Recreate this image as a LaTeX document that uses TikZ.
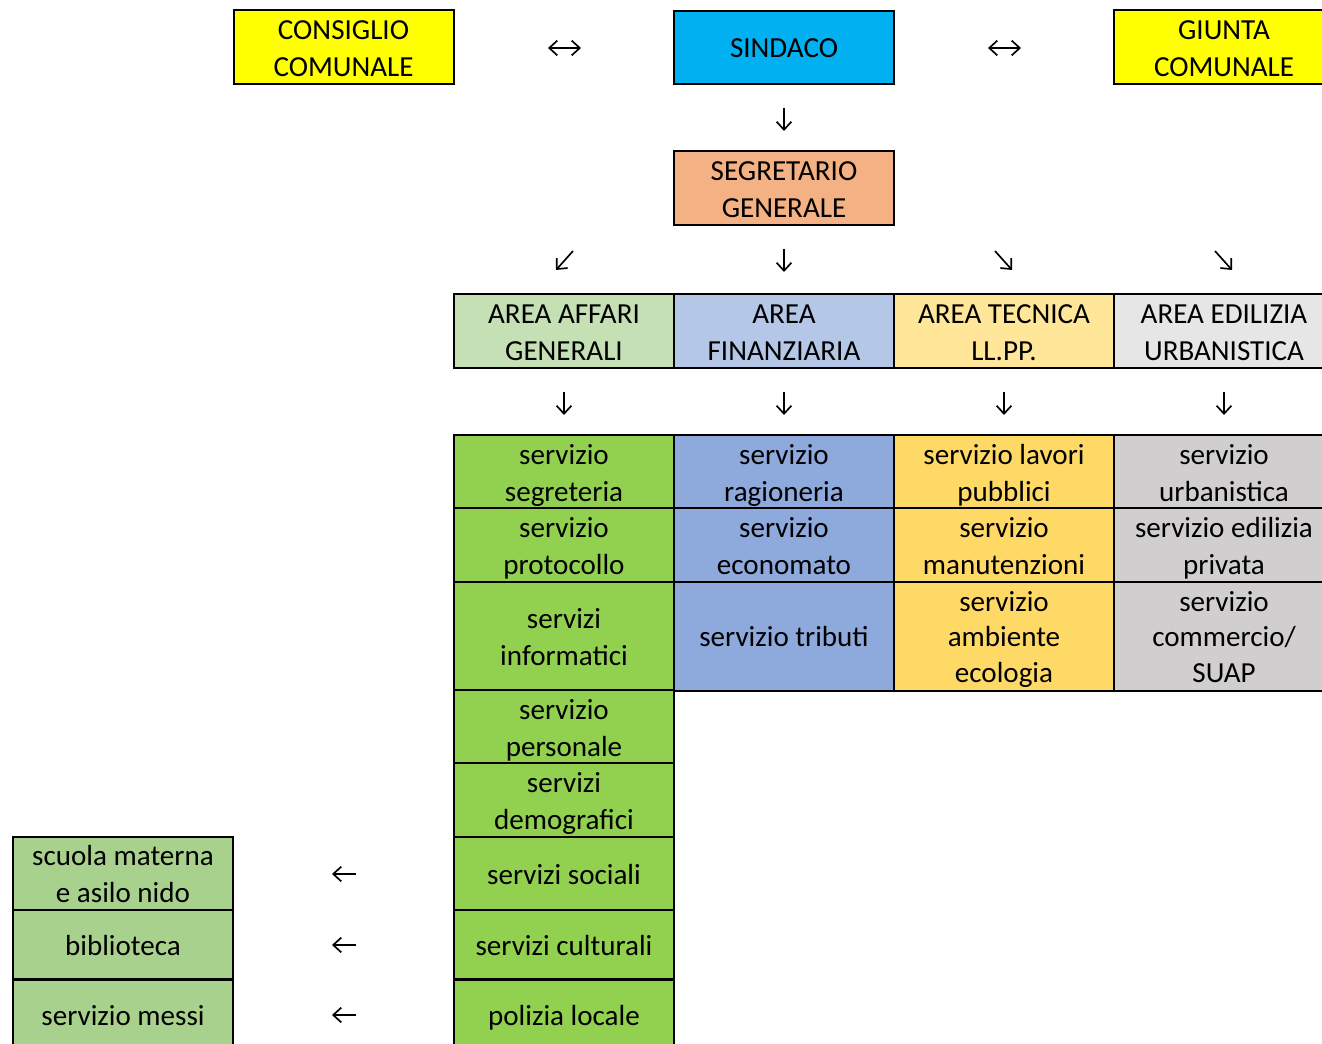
\documentclass[tikz,border=0pt]{standalone}
\usepackage{fontspec}
\newfontfamily\cellfont{Carlito}
\usetikzlibrary{arrows.meta}
\definecolor{yel}{HTML}{FFFF00}
\definecolor{sind}{HTML}{00B0F0}
\definecolor{segr}{HTML}{F4B183}
\definecolor{agL}{HTML}{C5E0B4}
\definecolor{afL}{HTML}{B4C7E7}
\definecolor{atL}{HTML}{FFE699}
\definecolor{aeL}{HTML}{E7E6E6}
\definecolor{sG}{HTML}{92D050}
\definecolor{sB}{HTML}{8EA9DB}
\definecolor{sY}{HTML}{FFD966}
\definecolor{sR}{HTML}{D0CECE}
\definecolor{sL}{HTML}{A9D18E}
\newcommand\cellstrut{\rule[-5.75pt]{0pt}{27.25pt}}
\newcommand\ct[1]{\cellstrut#1\cellstrut}
\begin{document}
\begin{tikzpicture}[x=0.75pt,y=-0.75pt,
  cell/.style={draw=black, line width=1.5pt, inner sep=0pt, outer sep=0pt,
    minimum width=165pt, minimum height=54.75pt, align=center,
    font={\cellfont\fontsize{21.8pt}{27pt}\selectfont}},
  tall/.style={minimum height=81.75pt},
  short/.style={minimum height=51.75pt},
  glyph/.style={line width=1.25pt, -{Straight Barb[length=6pt,width=11pt]}},
  glyphb/.style={line width=1.25pt, {Straight Barb[length=6pt,width=11pt]}-{Straight Barb[length=6pt,width=11pt]}}
]
\useasboundingbox (0,0) rectangle (1322,1044);
\clip (0,0) rectangle (1322,1044);
\fill[white] (0,0) rectangle (1322,1044);

% top row
\node[cell, fill=yel] (consiglio) at (343.5,47.5) {\ct{CONSIGLIO\\COMUNALE}};
\node[cell, fill=sind] (sindaco) at (784,47.5) {\ct{SINDACO}};
\node[cell, fill=yel] (giunta) at (1224,47.5) {\ct{GIUNTA\\COMUNALE}};
\node[cell, fill=segr] (segretario) at (784,188.5) {\ct{SEGRETARIO\\GENERALE}};

% areas
\node[cell, fill=agL] (aag) at (564,331.5) {\ct{AREA AFFARI\\GENERALI}};
\node[cell, fill=afL] (afi) at (784,331.5) {\ct{AREA\\FINANZIARIA}};
\node[cell, fill=atL] (ate) at (1004,331.5) {\ct{AREA TECNICA\\LL.PP.}};
\node[cell, fill=aeL] (aed) at (1224,331.5) {\ct{AREA EDILIZIA\\URBANISTICA}};

% services column 1
\node[cell, fill=sG] (s11) at (564,472.5) {\ct{servizio\\segreteria}};
\node[cell, fill=sG] (s12) at (564,545.5) {\ct{servizio\\protocollo}};
\node[cell, fill=sG, tall] (s13) at (564,636.5) {\ct{servizi\\informatici}};
\node[cell, fill=sG] (s14) at (564,727.5) {\ct{servizio\\personale}};
\node[cell, fill=sG] (s15) at (564,800.5) {\ct{servizi\\demografici}};
\node[cell, fill=sG] (s16) at (564,873.5) {\ct{servizi sociali}};
\node[cell, fill=sG, short] (s17) at (564,944.5) {\ct{servizi culturali}};
\node[cell, fill=sG, short] (s18) at (564,1014.5) {\ct{polizia locale}};

% services column 2
\node[cell, fill=sB] (s21) at (784,472.5) {\ct{servizio\\ragioneria}};
\node[cell, fill=sB] (s22) at (784,545.5) {\ct{servizio\\economato}};
\node[cell, fill=sB, tall] (s23) at (784,636.5) {\ct{servizio tributi}};

% services column 3
\node[cell, fill=sY] (s31) at (1004,472.5) {\ct{servizio lavori\\pubblici}};
\node[cell, fill=sY] (s32) at (1004,545.5) {\ct{servizio\\manutenzioni}};
\node[cell, fill=sY, tall] (s33) at (1004,636.5) {\ct{servizio\\ambiente\\ecologia}};

% services column 4
\node[cell, fill=sR] (s41) at (1224,472.5) {\ct{servizio\\urbanistica}};
\node[cell, fill=sR] (s42) at (1224,545.5) {\ct{servizio edilizia\\privata}};
\node[cell, fill=sR, tall] (s43) at (1224,636.5) {\ct{servizio\\commercio/\\SUAP}};

% left column
\node[cell, fill=sL] (l1) at (123,873.5) {\ct{scuola materna\\e asilo nido}};
\node[cell, fill=sL, short] (l2) at (123,944.5) {\ct{biblioteca}};
\node[cell, fill=sL, short] (l3) at (123,1014.5) {\ct{servizio messi}};

% arrow glyphs
\coordinate (h1a) at (548,48); \coordinate (h1b) at (581,48);
\coordinate (h2a) at (988,48); \coordinate (h2b) at (1021,48);
\draw[glyphb] (h1a) -- (h1b);
\draw[glyphb] (h2a) -- (h2b);

\coordinate (d0a) at (784,108); \coordinate (d0b) at (784,131);
\draw[glyph] (d0a) -- (d0b);

\coordinate (g1a) at (573,251); \coordinate (g1b) at (556,270);
\coordinate (g2a) at (784,249); \coordinate (g2b) at (784,272);
\coordinate (g3a) at (995,251); \coordinate (g3b) at (1012,270);
\coordinate (g4a) at (1215,251); \coordinate (g4b) at (1232,270);
\draw[glyph] (g1a) -- (g1b);
\draw[glyph] (g2a) -- (g2b);
\draw[glyph] (g3a) -- (g3b);
\draw[glyph] (g4a) -- (g4b);

\foreach \x/\n in {564/1,784/2,1004/3,1224/4}{
  \coordinate (v\n a) at (\x,392);
  \coordinate (v\n b) at (\x,415);
  \draw[glyph] (v\n a) -- (v\n b);
}

\foreach \y/\n in {874/1,945/2,1015/3}{
  \coordinate (w\n a) at (356,\y);
  \coordinate (w\n b) at (332,\y);
  \draw[glyph] (w\n a) -- (w\n b);
}
\end{tikzpicture}
\end{document}
